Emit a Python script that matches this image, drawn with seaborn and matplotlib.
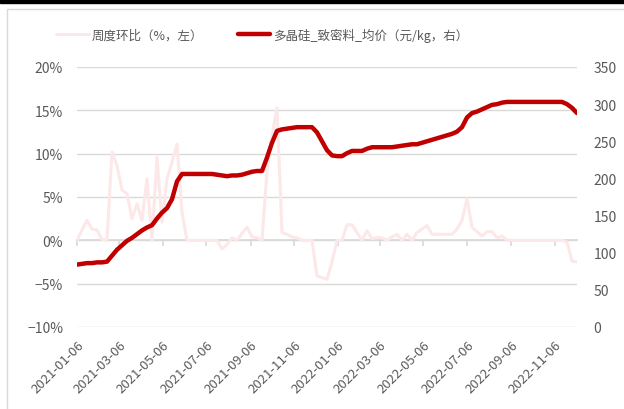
import pandas as pd
import seaborn as sns
import matplotlib.pyplot as plt
import matplotlib.dates as mdates
from matplotlib.patches import Rectangle
from matplotlib.ticker import PercentFormatter

# weekly dates, 2021-01-06 .. 2022-12-07
dates = pd.date_range('2021-01-06', periods=101, freq='7D')

# 多晶硅致密料均价 (元/kg)
price = [84, 85, 86, 86, 87, 87, 88, 96, 104, 110,
         116, 120, 125, 130, 134, 137, 146, 154, 160, 172,
         196, 206, 206, 206, 206, 206, 206, 206, 205, 204,
         203, 204, 204, 205, 207, 209, 210, 210, 228, 248,
         264, 266, 267, 268, 269, 269, 269, 269, 262, 250,
         238, 231, 230, 230, 234, 237, 237, 237, 240, 242,
         242, 242, 242, 242, 243, 244, 245, 246, 246, 248,
         250, 252, 254, 256, 258, 260, 263, 269, 282, 288,
         290, 293, 296, 299, 300, 302, 303, 303, 303, 303,
         303, 303, 303, 303, 303, 303, 303, 303, 300, 295,
         288]

# 周度环比 (%)
wow = [0, 1.2, 2.3, 1.3, 1.2, 0.1, 0, 10.2, 8.6, 5.8,
       5.4, 2.5, 4.2, 2.3, 7.1, 0, 9.6, 2.1, 7.1, 9.0,
       11.1, 3.2, 0, 0, 0, 0, 0, 0, 0, -1.0,
       -0.5, 0.3, 0, 0.8, 1.5, 0.4, 0.3, 0, 8.0, 12.0,
       15.3, 0.9, 0.7, 0.4, 0.3, 0, 0, 0, -4.1, -4.3,
       -4.5, -2.5, 0, 0, 1.8, 1.8, 0.9, 0, 1.1, 0.2,
       0.3, 0.3, 0, 0.4, 0.7, 0, 0.7, 0, 0.9, 1.3,
       1.7, 0.7, 0.7, 0.7, 0.7, 0.7, 1.3, 2.3, 4.8, 1.5,
       1.0, 0.5, 1.0, 1.0, 0.3, 0.5, 0, 0, 0, 0,
       0, 0, 0, 0, 0, 0, 0, 0, -0.2, -2.4,
       -2.5]

df = pd.DataFrame({'date': dates, 'price': price, 'wow': [v / 100 for v in wow]})

sns.set_theme(style='white')
plt.rcParams['font.family'] = ['Noto Sans CJK SC', 'DejaVu Sans']
txt = '#595959'
grid_c = '#D9D9D9'
red = '#C00000'
pink = '#FCE8E8'

fig = plt.figure(figsize=(6.24, 4.10), dpi=100)
ax = fig.add_axes([77 / 624, 82 / 410, 500 / 624, 260 / 410])
ax2 = ax.twinx()

sns.lineplot(data=df, x='date', y='wow', ax=ax, color=pink, linewidth=2.2,
             label='周度环比（%，左）', legend=False)
sns.lineplot(data=df, x='date', y='price', ax=ax2, color=red, linewidth=3.2,
             label='多晶硅_致密料_均价（元/kg，右）', legend=False)

ax.set_ylim(-0.10, 0.20)
ax.set_yticks([-0.10, -0.05, 0, 0.05, 0.10, 0.15, 0.20])
ax.yaxis.set_major_formatter(PercentFormatter(1.0, decimals=0))
ax2.set_ylim(0, 350)
ax2.set_yticks(range(0, 351, 50))
ax.set_xlim(dates[0], dates[-1])

ax.grid(axis='y', color=grid_c, linewidth=1.0)
ax.set_axisbelow(True)
ax2.grid(False)

for a in (ax, ax2):
    for s in a.spines.values():
        s.set_visible(False)
    a.set_xlabel('')
    a.set_ylabel('')

ax.tick_params(axis='y', length=0, pad=10, labelsize=10, labelcolor=txt)
ax2.tick_params(axis='y', length=0, pad=12, labelsize=10, labelcolor=txt)

loc = mdates.MonthLocator(bymonth=[1, 3, 5, 7, 9, 11], bymonthday=6)
ax.xaxis.set_major_locator(loc)
ax.xaxis.set_major_formatter(mdates.DateFormatter('%Y-%m-%d'))
ax.tick_params(axis='x', length=0, pad=8, labelsize=9.5, labelcolor=txt)
for lab in ax.get_xticklabels():
    lab.set_rotation(45)
    lab.set_ha('right')
    lab.set_rotation_mode('anchor')

# category axis crossing at 0%
sec = ax.secondary_xaxis(1 / 3)
sec.xaxis.set_major_locator(mdates.MonthLocator(bymonth=[1, 3, 5, 7, 9, 11], bymonthday=6))
sec.tick_params(axis='x', length=4, color=grid_c, labelbottom=False, labeltop=False)
sec.spines['bottom'].set_color(grid_c)
for side in ('top', 'left', 'right'):
    sec.spines[side].set_visible(False)

h1, l1 = ax.get_legend_handles_labels()
h2, l2 = ax2.get_legend_handles_labels()
fig.legend(h1 + h2, l1 + l2, loc='center', bbox_to_anchor=(0.42, 0.913), ncol=2,
           frameon=False, fontsize=9, labelcolor=txt, handlelength=2.6,
           handletextpad=0.2, columnspacing=2.8)

# outer frame of the screenshot
fig.patches.append(Rectangle((7 / 624, -0.1), 1.2, (0.1 + 1 - 10 / 410), transform=fig.transFigure,
                             fill=False, edgecolor='#D9D9D9', linewidth=1.0))
fig.patches.append(Rectangle((0, 1 - 4 / 410), 1, 4 / 410, transform=fig.transFigure,
                             color='black'))

fig.savefig('out.png', dpi=100)
